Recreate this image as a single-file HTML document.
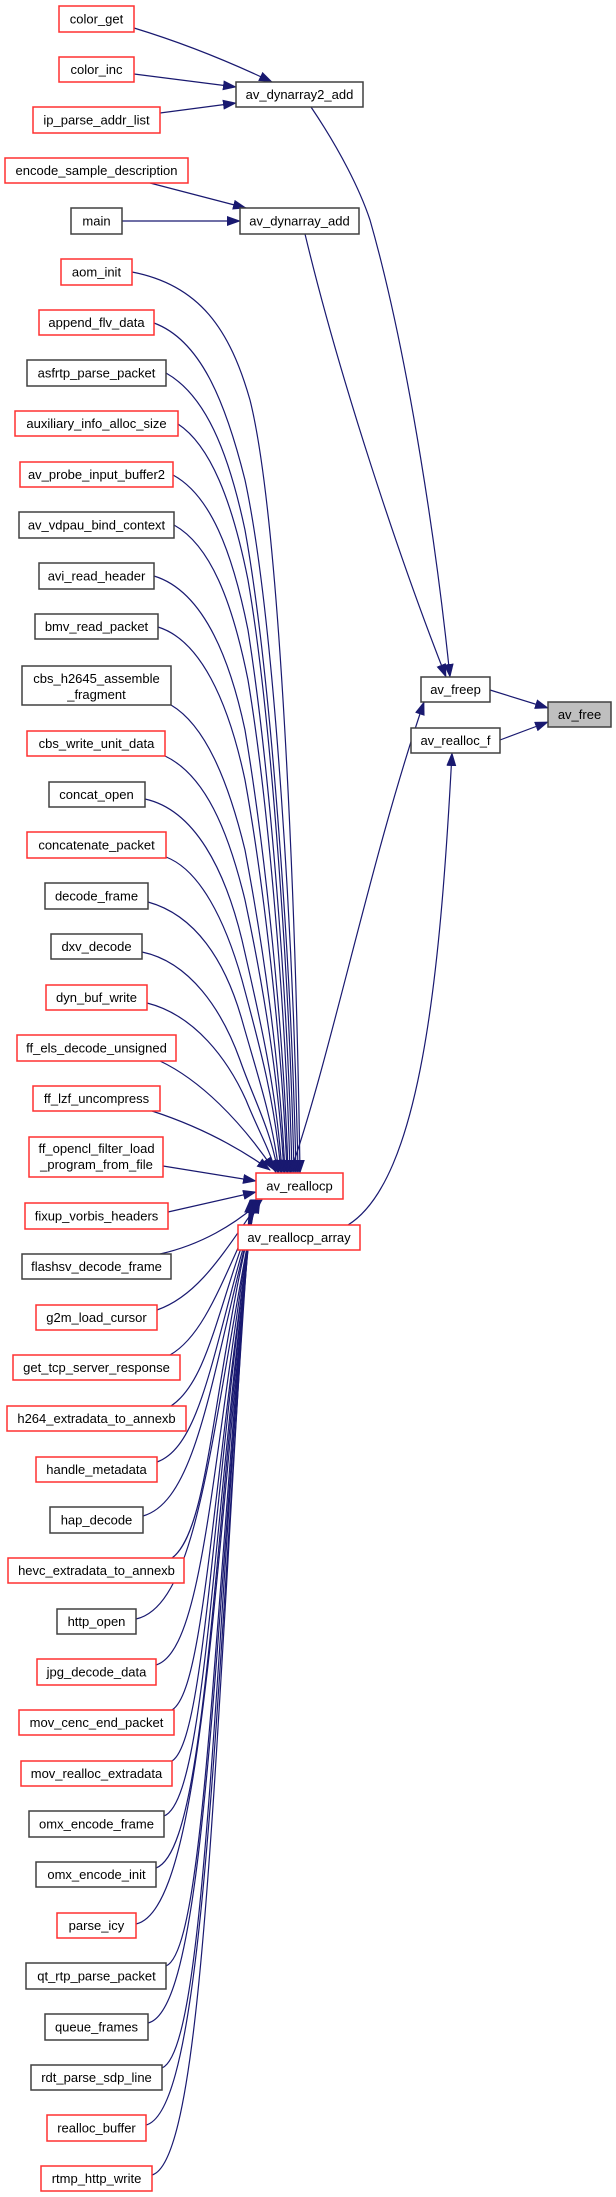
<!DOCTYPE html>
<html><head><meta charset="utf-8"><style>
html,body{margin:0;padding:0;background:#fff}
svg{display:block}
text{font-family:"Liberation Sans",sans-serif;font-size:13px;fill:#000;text-anchor:middle}
.r{fill:#fff;stroke:#ff3030;stroke-width:1.5}
.b{fill:#fff;stroke:#404040;stroke-width:1.5}
.e{fill:none;stroke:#191970;stroke-width:1.2}
</style></head><body>
<svg width="616" height="2197" viewBox="0 0 616 2197" xmlns="http://www.w3.org/2000/svg">
<defs><marker id="a" markerWidth="14" markerHeight="10" refX="13" refY="5" orient="auto" markerUnits="userSpaceOnUse"><path d="M0,0 L14,5 L0,10 z" fill="#191970"/></marker></defs>

<path class="e" marker-end="url(#a)" d="M134,28 C180,42 230,62 272,82"/>
<path class="e" marker-end="url(#a)" d="M134,74 L236,87"/>
<path class="e" marker-end="url(#a)" d="M160,113 L236,103"/>
<path class="e" marker-end="url(#a)" d="M150,183 L246,208"/>
<path class="e" marker-end="url(#a)" d="M122,221 L240,221"/>
<path class="e" marker-end="url(#a)" d="M311,107 C340,150 360,190 370,220 C410,360 438,560 450,677"/>
<path class="e" marker-end="url(#a)" d="M305,234 C340,380 400,560 446,677"/>
<path class="e" marker-end="url(#a)" d="M290,1173 C330,1060 370,860 424,702"/>
<path class="e" marker-end="url(#a)" d="M348,1225 C420,1180 440,980 452,753"/>
<path class="e" marker-end="url(#a)" d="M490,690 L548,708"/>
<path class="e" marker-end="url(#a)" d="M500,740 L548,722"/>

<path class="e" marker-end="url(#a)" d="M132,272 C200,285 230,330 250,400 C280,520 296,900 300,1173"/>
<path class="e" marker-end="url(#a)" d="M154,323 C200,340 225,400 245,480 C275,620 294,950 298,1173"/>
<path class="e" marker-end="url(#a)" d="M166,373 C205,395 228,450 245,530 C272,680 292,980 296,1173"/>
<path class="e" marker-end="url(#a)" d="M178,424 C210,445 232,500 248,580 C272,720 290,990 294,1173"/>
<path class="e" marker-end="url(#a)" d="M173,475 C210,495 232,550 248,630 C270,770 288,1000 292,1173"/>
<path class="e" marker-end="url(#a)" d="M174,525 C210,545 232,600 248,680 C268,800 286,1010 290,1173"/>
<path class="e" marker-end="url(#a)" d="M154,576 C200,590 228,650 245,730 C265,850 284,1030 288,1173"/>
<path class="e" marker-end="url(#a)" d="M158,627 C200,640 228,700 245,780 C263,880 282,1040 287,1173"/>
<path class="e" marker-end="url(#a)" d="M171,705 C205,725 228,780 245,850 C262,940 280,1060 285,1173"/>
<path class="e" marker-end="url(#a)" d="M165,756 C205,775 228,830 245,900 C262,980 279,1080 284,1173"/>
<path class="e" marker-end="url(#a)" d="M145,799 C195,810 225,870 242,940 C258,1010 277,1090 282,1173"/>
<path class="e" marker-end="url(#a)" d="M166,857 C200,870 225,920 242,980 C258,1040 275,1100 281,1173"/>
<path class="e" marker-end="url(#a)" d="M148,902 C195,915 225,960 242,1020 C256,1070 273,1120 279,1173"/>
<path class="e" marker-end="url(#a)" d="M142,952 C190,962 222,1010 240,1060 C254,1100 271,1130 278,1173"/>
<path class="e" marker-end="url(#a)" d="M147,1003 C195,1015 228,1060 246,1100 C258,1130 270,1150 276,1173"/>
<path class="e" marker-end="url(#a)" d="M160,1061 C200,1080 240,1120 274,1170"/>
<path class="e" marker-end="url(#a)" d="M152,1111 C195,1125 235,1145 270,1170"/>
<path class="e" marker-end="url(#a)" d="M163,1166 L256,1181"/>
<path class="e" marker-end="url(#a)" d="M168,1212 L256,1192"/>

<path class="e" marker-end="url(#a)" d="M160,1254 C200,1245 235,1225 262,1200"/>
<path class="e" marker-end="url(#a)" d="M157,1310 C200,1295 225,1250 261,1200"/>
<path class="e" marker-end="url(#a)" d="M170,1355 C205,1335 222,1280 260,1200"/>
<path class="e" marker-end="url(#a)" d="M171,1406 C210,1380 218,1300 259,1200"/>
<path class="e" marker-end="url(#a)" d="M157,1462 C205,1445 215,1330 258,1200"/>
<path class="e" marker-end="url(#a)" d="M143,1516 C200,1500 213,1360 257,1200"/>
<path class="e" marker-end="url(#a)" d="M172,1558 C210,1530 212,1380 256,1200"/>
<path class="e" marker-end="url(#a)" d="M136,1619 C200,1605 212,1420 256,1200"/>
<path class="e" marker-end="url(#a)" d="M156,1665 C205,1650 212,1450 255,1200"/>
<path class="e" marker-end="url(#a)" d="M172,1710 C205,1690 212,1480 255,1200"/>
<path class="e" marker-end="url(#a)" d="M172,1761 C205,1740 212,1500 254,1200"/>
<path class="e" marker-end="url(#a)" d="M164,1816 C205,1800 212,1530 254,1200"/>
<path class="e" marker-end="url(#a)" d="M156,1868 C205,1850 212,1560 253,1200"/>
<path class="e" marker-end="url(#a)" d="M136,1924 C200,1910 213,1590 253,1200"/>
<path class="e" marker-end="url(#a)" d="M166,1966 C205,1950 213,1620 252,1200"/>
<path class="e" marker-end="url(#a)" d="M148,2023 C205,2010 213,1650 252,1200"/>
<path class="e" marker-end="url(#a)" d="M162,2068 C205,2050 213,1680 251,1200"/>
<path class="e" marker-end="url(#a)" d="M146,2125 C205,2110 214,1710 251,1200"/>
<path class="e" marker-end="url(#a)" d="M152,2175 C205,2160 214,1740 250,1200"/>

<rect class="r" x="59" y="6" width="75" height="26"/><text x="96.5" y="23.5">color_get</text>
<rect class="r" x="59" y="57" width="75" height="25"/><text x="96.5" y="74">color_inc</text>
<rect class="r" x="33" y="107" width="127" height="26"/><text x="96.5" y="124.5">ip_parse_addr_list</text>
<rect class="r" x="5" y="158" width="183" height="25"/><text x="96.5" y="175">encode_sample_description</text>
<rect class="b" x="71" y="208" width="51" height="26"/><text x="96.5" y="225.5">main</text>
<rect class="r" x="61" y="259" width="71" height="26"/><text x="96.5" y="276.5">aom_init</text>
<rect class="r" x="39" y="310" width="115" height="25"/><text x="96.5" y="327">append_flv_data</text>
<rect class="b" x="27" y="360" width="139" height="26"/><text x="96.5" y="377.5">asfrtp_parse_packet</text>
<rect class="r" x="15" y="411" width="163" height="25"/><text x="96.5" y="428">auxiliary_info_alloc_size</text>
<rect class="r" x="20" y="462" width="153" height="25"/><text x="96.5" y="479">av_probe_input_buffer2</text>
<rect class="b" x="19" y="512" width="155" height="26"/><text x="96.5" y="529.5">av_vdpau_bind_context</text>
<rect class="b" x="39" y="563" width="115" height="26"/><text x="96.5" y="580.5">avi_read_header</text>
<rect class="b" x="35" y="614" width="123" height="25"/><text x="96.5" y="631">bmv_read_packet</text>
<rect class="b" x="22" y="666" width="149" height="39"/><text x="96.5" y="683">cbs_h2645_assemble</text><text x="96.5" y="699">_fragment</text>
<rect class="r" x="27" y="731" width="138" height="25"/><text x="96.5" y="748">cbs_write_unit_data</text>
<rect class="b" x="49" y="782" width="96" height="25"/><text x="96.5" y="799">concat_open</text>
<rect class="r" x="27" y="832" width="139" height="26"/><text x="96.5" y="849.5">concatenate_packet</text>
<rect class="b" x="45" y="883" width="103" height="26"/><text x="96.5" y="900.5">decode_frame</text>
<rect class="b" x="51" y="934" width="91" height="25"/><text x="96.5" y="951">dxv_decode</text>
<rect class="r" x="46" y="985" width="101" height="25"/><text x="96.5" y="1002">dyn_buf_write</text>
<rect class="r" x="17" y="1035" width="159" height="26"/><text x="96.5" y="1052.5">ff_els_decode_unsigned</text>
<rect class="r" x="33" y="1086" width="127" height="25"/><text x="96.5" y="1103">ff_lzf_uncompress</text>
<rect class="r" x="29" y="1137" width="134" height="40"/><text x="96.5" y="1153">ff_opencl_filter_load</text><text x="96.5" y="1169">_program_from_file</text>
<rect class="r" x="25" y="1203" width="143" height="26"/><text x="96.5" y="1220.5">fixup_vorbis_headers</text>
<rect class="b" x="22" y="1254" width="149" height="25"/><text x="96.5" y="1271">flashsv_decode_frame</text>
<rect class="r" x="36" y="1305" width="121" height="25"/><text x="96.5" y="1322">g2m_load_cursor</text>
<rect class="r" x="13" y="1355" width="167" height="25"/><text x="96.5" y="1372">get_tcp_server_response</text>
<rect class="r" x="7" y="1406" width="179" height="25"/><text x="96.5" y="1423">h264_extradata_to_annexb</text>
<rect class="r" x="36" y="1457" width="121" height="25"/><text x="96.5" y="1474">handle_metadata</text>
<rect class="b" x="50" y="1507" width="93" height="26"/><text x="96.5" y="1524.5">hap_decode</text>
<rect class="r" x="8" y="1558" width="176" height="25"/><text x="96.5" y="1575">hevc_extradata_to_annexb</text>
<rect class="b" x="57" y="1609" width="79" height="25"/><text x="96.5" y="1626">http_open</text>
<rect class="r" x="37" y="1659" width="119" height="26"/><text x="96.5" y="1676.5">jpg_decode_data</text>
<rect class="r" x="19" y="1710" width="155" height="25"/><text x="96.5" y="1727">mov_cenc_end_packet</text>
<rect class="r" x="21" y="1761" width="151" height="25"/><text x="96.5" y="1778">mov_realloc_extradata</text>
<rect class="b" x="29" y="1811" width="135" height="26"/><text x="96.5" y="1828.5">omx_encode_frame</text>
<rect class="b" x="36" y="1862" width="120" height="25"/><text x="96.5" y="1879">omx_encode_init</text>
<rect class="r" x="57" y="1913" width="79" height="25"/><text x="96.5" y="1930">parse_icy</text>
<rect class="b" x="26" y="1963" width="140" height="26"/><text x="96.5" y="1980.5">qt_rtp_parse_packet</text>
<rect class="b" x="45" y="2014" width="103" height="26"/><text x="96.5" y="2031.5">queue_frames</text>
<rect class="b" x="31" y="2065" width="131" height="25"/><text x="96.5" y="2082">rdt_parse_sdp_line</text>
<rect class="r" x="47" y="2115" width="99" height="26"/><text x="96.5" y="2132.5">realloc_buffer</text>
<rect class="r" x="41" y="2166" width="111" height="25"/><text x="96.5" y="2183">rtmp_http_write</text>

<rect class="b" x="236" y="82" width="127" height="25"/><text x="299.5" y="99">av_dynarray2_add</text>
<rect class="b" x="240" y="208" width="119" height="26"/><text x="299.5" y="225.5">av_dynarray_add</text>
<rect class="r" x="256" y="1173" width="87" height="26"/><text x="299.5" y="1190.5">av_reallocp</text>
<rect class="r" x="238" y="1225" width="122" height="25"/><text x="299" y="1242">av_reallocp_array</text>
<rect class="b" x="421" y="677" width="69" height="25"/><text x="455.5" y="694">av_freep</text>
<rect class="b" x="411" y="728" width="89" height="25"/><text x="455.5" y="745">av_realloc_f</text>
<rect x="548" y="702" width="63" height="25" fill="#bfbfbf" stroke="#404040" stroke-width="1.5"/><text x="579.5" y="719">av_free</text>
</svg>
</body></html>
